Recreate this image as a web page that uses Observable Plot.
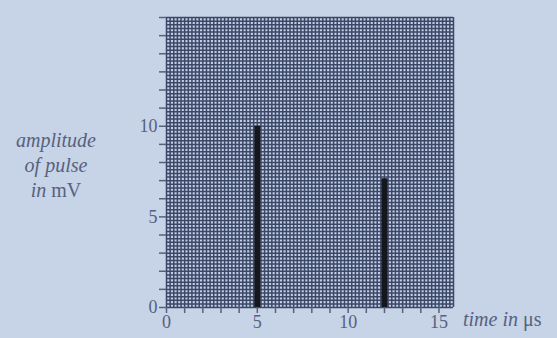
<!DOCTYPE html>
<html><head><meta charset="utf-8">
<script src="https://cdn.jsdelivr.net/npm/d3@7"></script>
<script src="https://cdn.jsdelivr.net/npm/@observablehq/plot@0.6"></script>
<style>
html,body{margin:0;padding:0;background:#c7d3e6;}
#chart{width:557px;height:338px;}
</style></head>
<body><div id="chart"></div>
<script>
// Data
const pulseTimes = [5, 12];          // time in µs
const pulseAmplitudes = [10, 7.1];   // amplitude in mV
const xTickLabels = [0, 5, 10, 15];
const yTickLabels = [0, 5, 10];
const yLabelLines = [["amplitude", ""], ["of pulse", ""], ["in", " mV"]];
const xLabelParts = ["time in", " μs"];

const pulses = pulseTimes.map((t, i) => ({t, a: pulseAmplitudes[i]}));
const xMax = 15.8, yMax = 16;
const minorX = d3.range(0, 16.01, 0.2).filter(v => v <= xMax + 1e-9);
const minorY = d3.range(0, 16.01, 0.2);
const majorX = d3.range(0, 16, 1);
const majorY = d3.range(0, 17, 1);

const ink = "#55627f";
const font = "Liberation Serif, DejaVu Serif, serif";

const chart = Plot.plot({
  width: 557, height: 338,
  marginLeft: 166, marginRight: 104, marginTop: 17, marginBottom: 31,
  x: {domain: [0, xMax]},
  y: {domain: [0, yMax]},
  style: {background: "transparent", fontFamily: font, fontSize: "18px", color: ink},
  marks: [
    Plot.rect([{}], {x1: 0, x2: xMax, y1: 0, y2: yMax, fill: "#c3cde2"}),
    Plot.ruleX(minorX, {stroke: "#3b4767", strokeWidth: 1.5}),
    Plot.ruleY(minorY, {x1: 0, x2: xMax, stroke: "#3b4767", strokeWidth: 1.5}),
    Plot.ruleX(pulses, {x: "t", y1: 0, y2: "a", stroke: "#15171d", strokeWidth: 6}),
    Plot.axisX({ticks: majorX, tickSize: 6, tickPadding: 2, stroke: ink, strokeWidth: 1.5,
      tickFormat: d => xTickLabels.includes(d) ? String(d) : "", label: null, fontSize: 18}),
    Plot.axisY({ticks: majorY, tickSize: 7, tickPadding: 2, stroke: ink, strokeWidth: 1.5,
      tickFormat: d => yTickLabels.includes(d) ? String(d) : "", label: null, fontSize: 18})
  ]
});
document.getElementById("chart").appendChild(chart);

const svg = d3.select(chart);
const yl = svg.append("text").attr("font-family", font).attr("font-size", 20)
  .attr("fill", ink).attr("text-anchor", "middle");
yLabelLines.forEach(([it, rm], i) => {
  const t = yl.append("tspan").attr("x", 56).attr("y", 147 + i * 25);
  t.append("tspan").attr("font-style", "italic").text(it);
  if (rm) t.append("tspan").text(rm);
});
const xl = svg.append("text").attr("font-family", font).attr("font-size", 20)
  .attr("fill", ink).attr("text-anchor", "start").attr("x", 463).attr("y", 326);
xl.append("tspan").attr("font-style", "italic").text(xLabelParts[0]);
xl.append("tspan").text(xLabelParts[1]);
</script></body></html>
